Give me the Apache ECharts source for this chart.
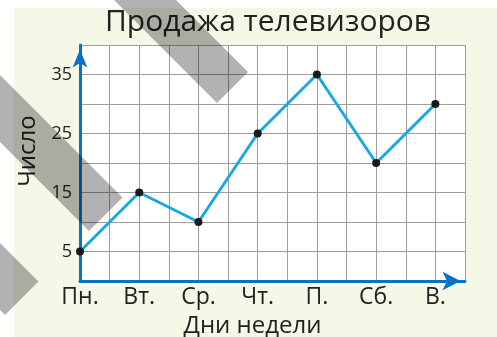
<!DOCTYPE html>
<html>
<head>
<meta charset="utf-8">
<script src="https://cdn.jsdelivr.net/npm/echarts@6/dist/echarts.min.js"></script>
<style>
  html, body { margin: 0; padding: 0; background: #fff; }
  #chart { width: 497px; height: 337px; }
</style>
</head>
<body>
<div id="chart"></div>
<script>
// Weekly TV sales
const days = ['Пн.', 'Вт.', 'Ср.', 'Чт.', 'П.', 'Сб.', 'В.'];
const sales = [5, 15, 10, 25, 35, 20, 30];
const yTickLabels = [5, 15, 25, 35];

const FONT = '"Open Sans", "Noto Sans", sans-serif';
const AXIS_BLUE = '#0a72c2';
const GRID_GRAY = '#9e9e9e';
const STRIPE = 'rgba(0,0,0,0.3)';

const chart = echarts.init(document.getElementById('chart'), null, { renderer: 'canvas' });

chart.setOption({
  backgroundColor: '#ffffff',
  animation: false,
  title: {
    text: 'Продажа телевизоров',
    left: 263,
    textAlign: 'center',
    top: 2,
    textStyle: { fontFamily: FONT, fontSize: 30, fontWeight: 'normal', color: '#222' }
  },
  grid: {
    left: 80, top: 45, right: 32, bottom: 56,
    outerBoundsMode: 'none',
    show: true, backgroundColor: '#ffffff', borderWidth: 0
  },
  xAxis: {
    type: 'value',
    min: 0, max: 6.5, interval: 0.5,
    name: 'Дни недели',
    nameLocation: 'middle',
    nameGap: 33,
    nameTextStyle: { fontFamily: FONT, fontSize: 24, color: '#222', padding: [0, 40, 0, 0] },
    axisLine: {
      show: true, onZero: false,
      symbol: ['none', 'arrow'], symbolSize: [14, 18], symbolOffset: [0, -4.5],
      lineStyle: { color: AXIS_BLUE, width: 3 }
    },
    axisTick: { show: false },
    axisLabel: {
      fontFamily: FONT, fontSize: 23, color: '#222', margin: 5,
      formatter: v => (Number.isInteger(v) ? days[v] : '')
    },
    splitLine: { show: true, lineStyle: { color: GRID_GRAY, width: 1 } }
  },
  yAxis: {
    type: 'value',
    min: 0, max: 40, interval: 5,
    name: 'Число',
    nameLocation: 'middle',
    nameGap: 38,
    nameTextStyle: { fontFamily: FONT, fontSize: 24, color: '#222', padding: [0, 0, 0, 24] },
    axisLine: {
      show: true, onZero: false,
      symbol: ['none', 'arrow'], symbolSize: [11, 18], symbolOffset: [0, -4.5],
      lineStyle: { color: AXIS_BLUE, width: 3 }
    },
    axisTick: { show: false },
    axisLabel: {
      fontFamily: FONT, fontSize: 18, color: '#222', margin: 8,
      formatter: v => (yTickLabels.includes(v) ? String(v) : '')
    },
    splitLine: { show: true, lineStyle: { color: GRID_GRAY, width: 1 } }
  },
  series: [{
    type: 'line',
    data: sales.map((v, i) => [i, v]),
    symbol: 'circle',
    symbolSize: 8,
    lineStyle: { color: '#1aa8e3', width: 3 },
    itemStyle: { color: '#1a1a1a' },
    z: 5
  }],
  graphic: [
    // cream backdrop behind the whole chart
    { type: 'rect', z: -10, silent: true,
      shape: { x: 14, y: 8, width: 483, height: 329 },
      style: { fill: '#f5f7e7' } },
    // diagonal grey bands laid over the chart
    { type: 'polygon', z: 100, silent: true,
      shape: { points: [[114, 0], [176, 0], [248, 72], [217, 103]] },
      style: { fill: STRIPE } },
    { type: 'polygon', z: 100, silent: true,
      shape: { points: [[0, 75], [122.5, 197.5], [89, 231], [0, 142]] },
      style: { fill: STRIPE } },
    { type: 'polygon', z: 100, silent: true,
      shape: { points: [[0, 243], [38.5, 281.5], [5, 315], [0, 310]] },
      style: { fill: STRIPE } }
  ]
});
</script>
</body>
</html>
